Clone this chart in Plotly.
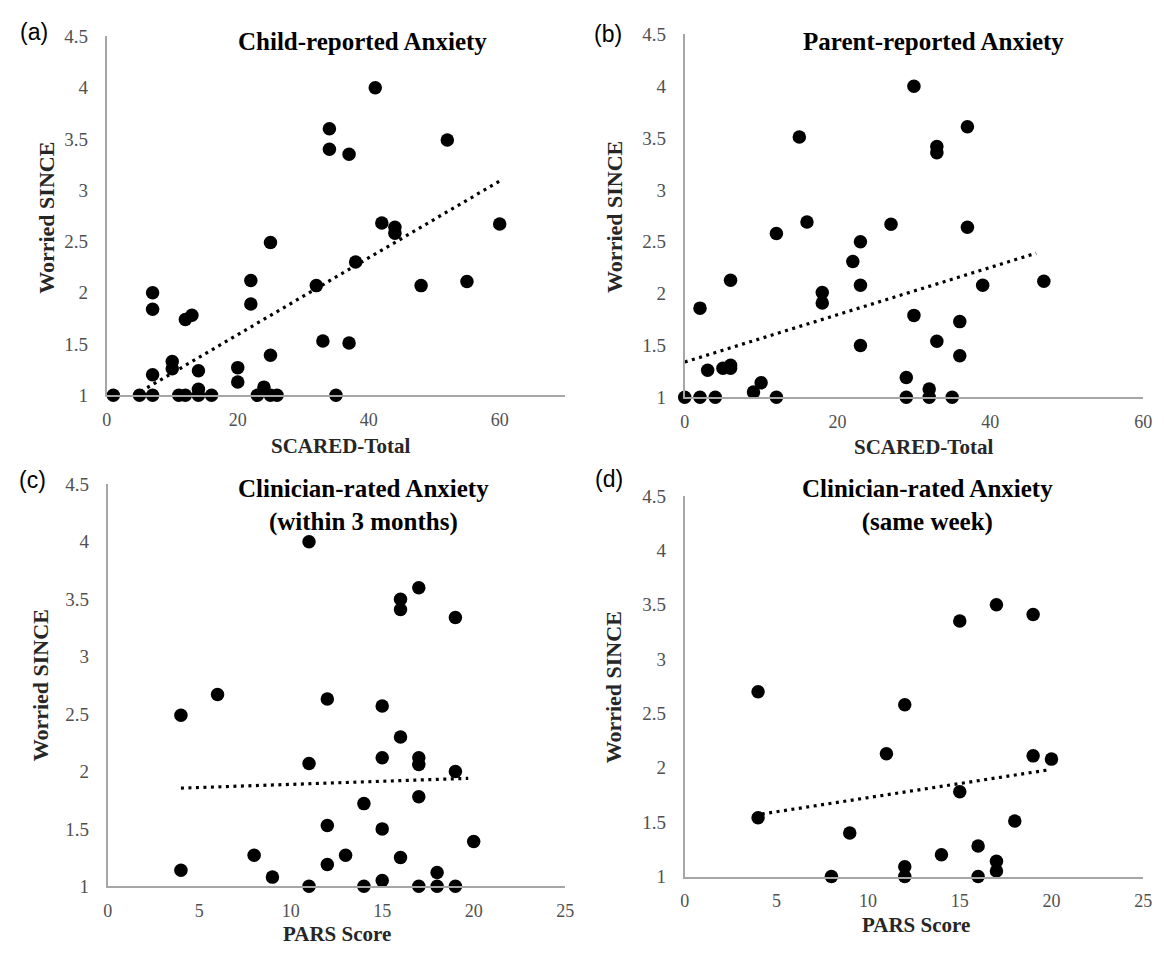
import plotly.graph_objects as go

# ---- data ----
a_x = [1, 5, 7, 7, 7, 7, 10, 10, 11, 12, 12, 13, 14, 14, 14, 16, 20, 20, 22, 22, 23, 24,
       25, 25, 25, 26, 32, 33, 34, 34, 35, 37, 37, 38, 41, 42, 44, 44, 48, 52, 55, 60]
a_y = [1, 1, 1, 1.2, 2.0, 1.84, 1.33, 1.26, 1, 1, 1.74, 1.78, 1.24, 1.06, 1, 1, 1.27, 1.13,
       2.12, 1.89, 1, 1.08, 2.49, 1.39, 1, 1, 2.07, 1.53, 3.6, 3.4, 1, 3.35, 1.51, 2.3, 4.0,
       2.68, 2.64, 2.58, 2.07, 3.49, 2.11, 2.67]
a_trend_x = [4.2, 60]
a_trend_y = [1.0, 3.09]

b_x = [0, 2, 2, 3, 4, 5, 6, 6, 6, 9, 10, 12, 12, 15, 16, 18, 18, 22, 23, 23, 23, 27, 29, 29,
       30, 30, 32, 32, 33, 33, 33, 35, 36, 36, 37, 37, 39, 47]
b_y = [1, 1, 1.86, 1.26, 1, 1.28, 1.31, 1.28, 2.13, 1.05, 1.14, 1, 2.58, 3.51, 2.69, 2.01,
       1.91, 2.31, 2.50, 2.08, 1.50, 2.67, 1.19, 1, 4.0, 1.79, 1.08, 1, 3.42, 3.36, 1.54, 1,
       1.73, 1.40, 3.61, 2.64, 2.08, 2.12]
b_trend_x = [0, 46]
b_trend_y = [1.34, 2.39]

c_x = [4, 4, 6, 8, 9, 11, 11, 11, 12, 12, 12, 13, 14, 14, 15, 15, 15, 15, 16, 16, 16, 16,
       17, 17, 17, 17, 17, 18, 18, 19, 19, 19, 20]
c_y = [2.49, 1.14, 2.67, 1.27, 1.08, 4.0, 2.07, 1, 2.63, 1.53, 1.19, 1.27, 1.72, 1, 2.57,
       2.12, 1.50, 1.05, 3.50, 3.41, 2.30, 1.25, 3.60, 2.12, 2.06, 1.78, 1, 1.12, 1, 3.34,
       2.0, 1, 1.39]
c_trend_x = [4, 19.7]
c_trend_y = [1.855, 1.94]

d_x = [4, 4, 8, 9, 11, 12, 12, 12, 14, 15, 15, 16, 16, 17, 17, 17, 18, 19, 19, 20]
d_y = [2.70, 1.54, 1, 1.40, 2.13, 2.58, 1.09, 1, 1.20, 3.35, 1.78, 1.28, 1, 3.50, 1.14,
       1.05, 1.51, 3.41, 2.11, 2.08]
d_trend_x = [4.2, 19.8]
d_trend_y = [1.575, 1.98]

y_ticks = [1, 1.5, 2, 2.5, 3, 3.5, 4, 4.5]
y_tick_text = ["1", "1.5", "2", "2.5", "3", "3.5", "4", "4.5"]
ab_x_ticks = [0, 20, 40, 60]
cd_x_ticks = [0, 5, 10, 15, 20, 25]

titles = ["<b>Child-reported Anxiety</b>", "<b>Parent-reported Anxiety</b>",
          "<b>Clinician-rated Anxiety</b><br><b>(within 3 months)</b>",
          "<b>Clinician-rated Anxiety</b><br><b>(same week)</b>"]
x_titles = ["SCARED-Total", "SCARED-Total", "PARS Score", "PARS Score"]
y_title = "Worried SINCE"
panel_tags = ["(a)", "(b)", "(c)", "(d)"]

W, H = 1164, 955
SERIF = "Liberation Serif, Times New Roman, serif"
AX_COL = "#a6a6a6"
TICK_COL = "#505050"

fig = go.Figure()

# pixel layout of each panel (left, right of x-axis; top(4.5), bottom(1) of y-axis)
panels = [
    dict(x=a_x, y=a_y, tx=a_trend_x, ty=a_trend_y, xr=[0, 70], xt=ab_x_ticks,
         px=(103, 567), py=(27, 394), title_c=(362, 32), xt_c=(340, 446), yt_c=(42, 212),
         tag=(13, 22)),
    dict(x=b_x, y=b_y, tx=b_trend_x, ty=b_trend_y, xr=[0, 60], xt=ab_x_ticks,
         px=(688, 1152), py=(25, 396), title_c=(940, 32), xt_c=(930, 447), yt_c=(617, 212),
         tag=(594, 25)),
    dict(x=c_x, y=c_y, tx=c_trend_x, ty=c_trend_y, xr=[0, 25], xt=cd_x_ticks,
         px=(104, 567), py=(485, 896), title_c=(363, 507), xt_c=(336, 945), yt_c=(36, 691),
         tag=(12, 481)),
    dict(x=d_x, y=d_y, tx=d_trend_x, ty=d_trend_y, xr=[0, 25], xt=cd_x_ticks,
         px=(688, 1152), py=(497, 886), title_c=(934, 507), xt_c=(922, 936), yt_c=(616, 693),
         tag=(595, 480)),
]

layout_axes = {}
annotations = []
for i, p in enumerate(panels):
    n = "" if i == 0 else str(i + 1)
    xa, ya = "x" + n, "y" + n
    fig.add_trace(go.Scatter(x=p["tx"], y=p["ty"], mode="lines", xaxis=xa, yaxis=ya,
                             line=dict(color="black", width=3.2, dash="3px,4.5px"),
                             showlegend=False, hoverinfo="skip"))
    fig.add_trace(go.Scatter(x=p["x"], y=p["y"], mode="markers", xaxis=xa, yaxis=ya,
                             marker=dict(color="black", size=13.5), cliponaxis=False,
                             showlegend=False))
    x0, x1 = p["px"]
    yt, yb = p["py"]
    layout_axes["xaxis" + n] = dict(
        domain=[x0 / W, x1 / W], range=p["xr"], anchor=ya, tickvals=p["xt"],
        showgrid=False, zeroline=False, showline=True, linecolor=AX_COL, linewidth=2,
        ticks="", ticklabelstandoff=7, ticklabeloverflow="allow",
        tickfont=dict(family=SERIF, size=18, color=TICK_COL))
    layout_axes["yaxis" + n] = dict(
        domain=[1 - yb / H, 1 - yt / H], range=[1, 4.5], anchor=xa, tickvals=y_ticks,
        ticktext=y_tick_text, showgrid=False, zeroline=False, showline=True,
        linecolor=AX_COL, linewidth=2, ticks="", ticklabelstandoff=13,
        ticklabeloverflow="allow",
        tickfont=dict(family=SERIF, size=19, color=TICK_COL))
    # x-axis title
    annotations.append(dict(text="<b>" + x_titles[i] + "</b>", x=p["xt_c"][0] / W,
                            y=1 - p["xt_c"][1] / H, xref="paper", yref="paper",
                            showarrow=False, xanchor="center", yanchor="middle",
                            font=dict(family=SERIF, size=21, color="#262626")))
    # y-axis title
    annotations.append(dict(text="<b>" + y_title + "</b>", x=p["yt_c"][0] / W,
                            y=1 - p["yt_c"][1] / H, xref="paper", yref="paper",
                            showarrow=False, textangle=-90, xanchor="center",
                            yanchor="middle",
                            font=dict(family=SERIF, size=22, color="#262626")))
    # chart title
    annotations.append(dict(text=titles[i], x=p["title_c"][0] / W,
                            y=1 - p["title_c"][1] / H, xref="paper", yref="paper",
                            showarrow=False, xanchor="center", yanchor="middle",
                            font=dict(family=SERIF, size=25, color="black")))
    # panel tag
    annotations.append(dict(text=panel_tags[i], x=p["tag"][0] / W, y=1 - p["tag"][1] / H,
                            xref="paper", yref="paper", showarrow=False,
                            xanchor="left", yanchor="middle",
                            font=dict(family="Liberation Sans, Arial, sans-serif",
                                      size=23, color="black")))

fig.update_layout(width=W, height=H, margin=dict(l=0, r=0, t=0, b=0),
                  paper_bgcolor="white", plot_bgcolor="white",
                  annotations=annotations, **layout_axes)

fig.write_html("out.html", config={"displayModeBar": False},
               post_script="document.body.style.margin='0px';"
                           "document.body.style.overflow='hidden';")
